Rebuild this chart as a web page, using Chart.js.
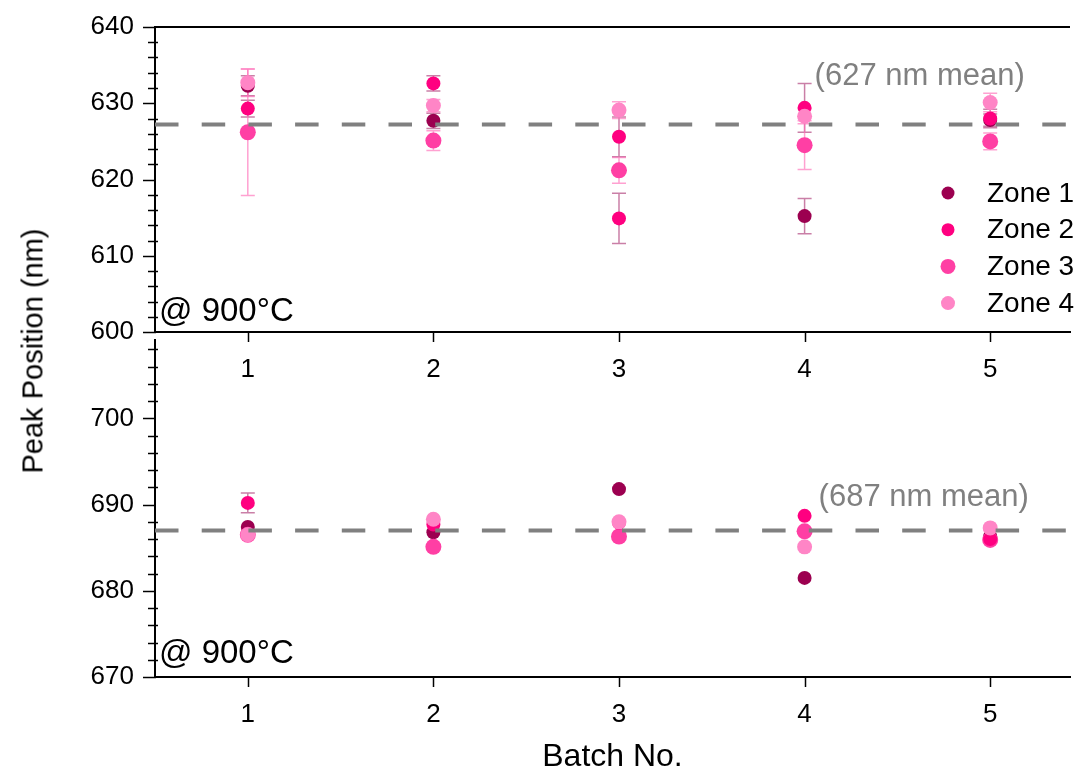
<!DOCTYPE html>
<html>
<head>
<meta charset="utf-8">
<script src="https://cdn.jsdelivr.net/npm/chart.js@4.4.1/dist/chart.umd.min.js"></script>
<style>
  html, body { margin: 0; padding: 0; background: #fff; overflow: hidden; }
  #wrap { position: relative; width: 1078px; height: 773px; font-family: 'Liberation Sans', Arial, sans-serif; }
  #topChart { position: absolute; left: 0; top: 0; }
  #bottomChart { position: absolute; left: 0; top: 332px; }
  #yTitle {
    position: absolute; left: 33px; top: 351px;
    transform: translate(-50%, -50%) rotate(-90deg);
    font-size: 29px; line-height: 1; white-space: nowrap; color: #000;
  }
</style>
</head>
<body>
<div id="wrap">
  <canvas id="topChart" width="1078" height="400"></canvas>
  <canvas id="bottomChart" width="1078" height="441"></canvas>
  <div id="yTitle">Peak Position (nm)</div>
</div>
<script>
// batches and zones
const batches = [1, 2, 3, 4, 5];
const zoneNames = ['Zone 1', 'Zone 2', 'Zone 3', 'Zone 4'];

// upper panel: first peak, values and standard deviations (nm)
const topZone1Batch = [1, 2, 4, 5];
const topZone1 = [632.3, 627.7, 615.2, 627.8];
const topZone1Err = [1.3, 1.0, 2.3, 0.8];
const topZone2Batch = [1, 2, 3, 3, 4, 5];
const topZone2 = [629.3, 632.6, 625.6, 614.9, 629.4, 628.0];
const topZone2Err = [1.1, 1.0, 2.6, 3.3, 3.2, 1.2];
const topZone3 = [626.2, 625.1, 621.2, 624.5, 625.0];
const topZone3Err = [8.3, 1.3, 1.7, 3.2, 1.1];
const topZone4 = [632.7, 629.7, 629.1, 628.3, 630.1];
const topZone4Err = [1.8, 0.8, 1.1, 1.0, 1.2];
const topMean = 627.2;
const topYTicks = [600, 610, 620, 630, 640];

// lower panel: second peak
const bottomZone1 = [687.4, 686.8, 691.8, 681.5, 686.3];
const bottomZone2 = [690.2, 687.7, 687.9, 688.7, 686.0];
const bottomZone2Err = [1.15, 0, 0, 0, 0];
const bottomZone3 = [686.5, 685.1, 686.3, 686.9, 685.9];
const bottomZone4 = [686.5, 688.3, 688.0, 685.1, 687.3];
const bottomMean = 687.0;
const bottomYTicks = [670, 680, 690, 700];

const zoneColors = ['#9c0050', '#ff0080', '#ff3fa4', '#ff85c6'];
const barColors = ['rgba(150,0,80,0.5)', 'rgba(150,0,80,0.5)', 'rgba(255,110,185,0.65)', 'rgba(255,110,185,0.65)'];
const zoneRadius = [7, 7, 8, 7.5];
const zoneOrder = [3, 1, 2, 0];

const FONT = "'Liberation Sans', Arial, sans-serif";

function points(xs, ys) {
  return ys.map((v, i) => ({ x: xs[i], y: v }));
}

function zoneDataset(i, xs, ys, errs) {
  return {
    label: zoneNames[i],
    data: points(xs, ys),
    errors: errs || null,
    errorColor: barColors[i],
    backgroundColor: zoneColors[i],
    borderWidth: 0,
    pointRadius: zoneRadius[i],
    pointHoverRadius: zoneRadius[i],
    order: zoneOrder[i],
    showLine: false
  };
}

// ticks, frame, error bars, mean line and labels for one panel
function makeDecor(cfg) {
  return {
    id: 'decor',
    beforeDatasetsDraw(chart) {
      const { ctx } = chart;
      const ys = chart.scales.y;
      chart.data.datasets.forEach((ds, i) => {
        if (!ds.errors) return;
        const meta = chart.getDatasetMeta(i);
        ctx.save();
        ctx.strokeStyle = ds.errorColor;
        ctx.lineWidth = 1.5;
        meta.data.forEach((pt, j) => {
          const e = ds.errors[j];
          if (!e) return;
          const v = ds.data[j].y;
          const y1 = ys.getPixelForValue(v + e);
          const y2 = ys.getPixelForValue(v - e);
          ctx.beginPath();
          ctx.moveTo(pt.x, y1); ctx.lineTo(pt.x, y2);
          ctx.moveTo(pt.x - 7, y1); ctx.lineTo(pt.x + 7, y1);
          ctx.moveTo(pt.x - 7, y2); ctx.lineTo(pt.x + 7, y2);
          ctx.stroke();
        });
        ctx.restore();
      });
    },
    afterDatasetsDraw(chart) {
      const { ctx, chartArea } = chart;
      const xs = chart.scales.x, ys = chart.scales.y;
      const my = ys.getPixelForValue(cfg.mean);
      ctx.save();
      ctx.strokeStyle = '#808080';
      ctx.lineWidth = 4;
      ctx.setLineDash([23.5, 23.2]);
      ctx.beginPath();
      ctx.moveTo(chartArea.left, my);
      ctx.lineTo(chartArea.right, my);
      ctx.stroke();
      ctx.setLineDash([]);
      ctx.fillStyle = '#808080';
      ctx.font = '31px ' + FONT;
      ctx.textBaseline = 'middle';
      ctx.fillText(cfg.meanText, xs.getPixelForValue(4) + cfg.meanDx, my - cfg.meanDy);
      ctx.restore();
    },
    afterDraw(chart) {
      const { ctx, chartArea } = chart;
      const xs = chart.scales.x, ys = chart.scales.y;
      ctx.save();
      ctx.strokeStyle = '#000';
      ctx.lineWidth = 1.5;
      // y ticks: major every 10, minor every 2
      for (let v = Math.ceil(ys.min / 2) * 2; v <= ys.max; v += 2) {
        const y = Math.round(ys.getPixelForValue(v)) + 0.5;
        const major = v % 10 === 0;
        ctx.beginPath();
        ctx.moveTo(chartArea.left - (major ? 12 : 7), y);
        ctx.lineTo(chartArea.left + (major ? 1 : 3), y);
        ctx.stroke();
      }
      // x ticks at batches
      batches.forEach(b => {
        const x = Math.round(xs.getPixelForValue(b)) + 0.5;
        ctx.beginPath();
        ctx.moveTo(x, chartArea.bottom);
        ctx.lineTo(x, chartArea.bottom + 10);
        ctx.stroke();
      });
      if (cfg.topFrame) {
        ctx.lineWidth = 2;
        ctx.beginPath();
        ctx.moveTo(chartArea.left - 1, chartArea.top);
        ctx.lineTo(chartArea.right, chartArea.top);
        ctx.stroke();
      }
      // temperature tag
      ctx.fillStyle = '#000';
      ctx.font = '33px ' + FONT;
      ctx.textBaseline = 'alphabetic';
      ctx.fillText('@ 900°C', chartArea.left + 4, chartArea.bottom - cfg.tagDy);
      // legend
      if (cfg.legend) {
        ctx.font = '28px ' + FONT;
        ctx.textBaseline = 'middle';
        chart.data.datasets.forEach((ds, i) => {
          const ly = 193 + i * 36.7;
          ctx.fillStyle = ds.backgroundColor;
          ctx.beginPath();
          ctx.arc(948, ly, ds.pointRadius - 0.5, 0, Math.PI * 2);
          ctx.fill();
          ctx.fillStyle = '#000';
          ctx.fillText(ds.label, 987, ly + 1);
        });
      }
      ctx.restore();
    }
  };
}

function panelOptions(yMin, yMax, yTicks, xHeight, xTitle, xPad) {
  return {
    responsive: false,
    animation: false,
    layout: { padding: { top: xTitle ? 0 : 27, left: 0, right: 0, bottom: 0 } },
    plugins: { legend: { display: false }, tooltip: { enabled: false } },
    scales: {
      x: {
        type: 'linear',
        min: 0.5,
        max: 5.43,
        afterBuildTicks: s => { s.ticks = batches.map(v => ({ value: v })); },
        afterFit: s => { s.height = xHeight; s.paddingLeft = 0; s.paddingRight = 0; },
        grid: { display: false },
        border: { display: true, color: '#000', width: 2 },
        ticks: { color: '#000', font: { family: FONT, size: 26 }, padding: xPad, maxRotation: 0, autoSkip: false },
        title: {
          display: !!xTitle,
          text: xTitle || '',
          color: '#000',
          font: { family: FONT, size: 32, lineHeight: 1 },
          padding: { top: 0, bottom: 0 }
        }
      },
      y: {
        min: yMin,
        max: yMax,
        afterBuildTicks: s => { s.ticks = yTicks.map(v => ({ value: v })); },
        afterFit: s => { s.width = 155; s.paddingTop = 0; s.paddingBottom = 0; },
        grid: { display: false },
        border: { display: true, color: '#000', width: 2 },
        ticks: { color: '#000', font: { family: FONT, size: 26 }, padding: 13 }
      }
    }
  };
}

new Chart(document.getElementById('topChart'), {
  type: 'scatter',
  data: {
    datasets: [
      zoneDataset(0, topZone1Batch, topZone1, topZone1Err),
      zoneDataset(1, topZone2Batch, topZone2, topZone2Err),
      zoneDataset(2, batches, topZone3, topZone3Err),
      zoneDataset(3, batches, topZone4, topZone4Err)
    ]
  },
  options: panelOptions(600, 640, topYTicks, 68, null, 14),
  plugins: [makeDecor({ mean: topMean, meanText: '(627 nm mean)', meanDx: 10, meanDy: 48, tagDy: 11, topFrame: true, legend: true })]
});

new Chart(document.getElementById('bottomChart'), {
  type: 'scatter',
  data: {
    datasets: [
      zoneDataset(0, batches, bottomZone1),
      zoneDataset(1, batches, bottomZone2, bottomZone2Err),
      zoneDataset(2, batches, bottomZone3),
      zoneDataset(3, batches, bottomZone4)
    ]
  },
  options: panelOptions(670, 709.1, bottomYTicks, 96, 'Batch No.', 14),
  plugins: [makeDecor({ mean: bottomMean, meanText: '(687 nm mean)', meanDx: 14, meanDy: 33, tagDy: 14, topFrame: false, legend: false })]
});
</script>
</body>
</html>
